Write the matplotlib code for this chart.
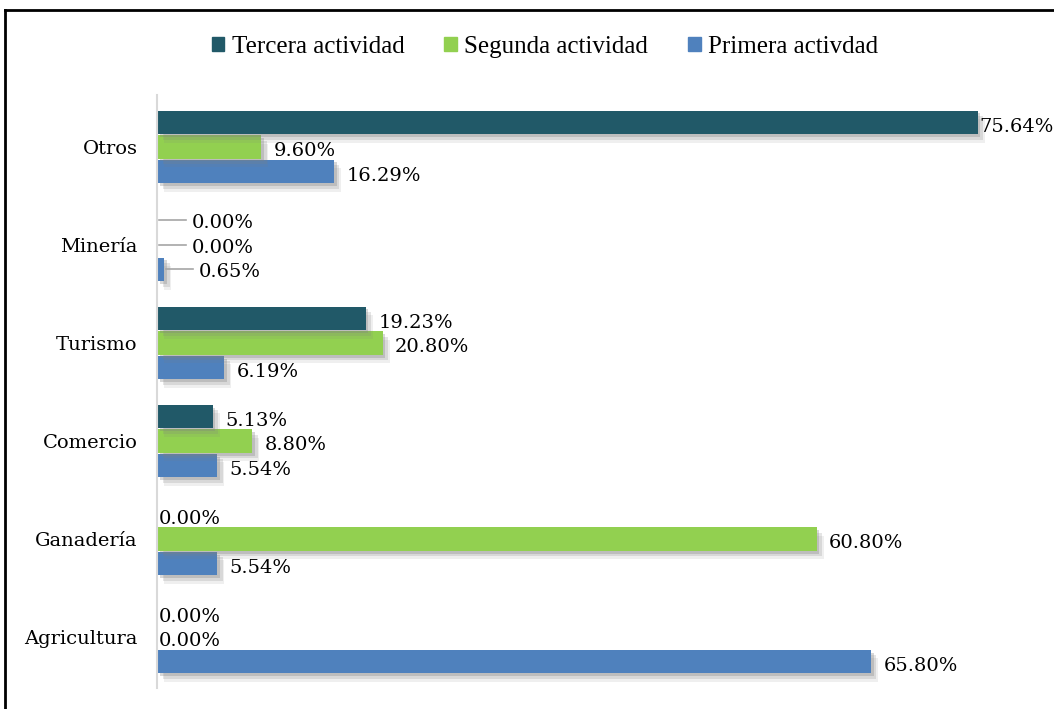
import numpy as np
import matplotlib.pyplot as plt
import matplotlib.patheffects as pe
from matplotlib.lines import Line2D
from matplotlib.patches import Patch

plt.rcParams['font.family'] = ['DejaVu Serif', 'Liberation Serif']

categories = ["Agricultura", "Ganadería", "Comercio", "Turismo", "Minería", "Otros"]
series_names = ["Primera activdad", "Segunda actividad", "Tercera actividad"]
primera = [65.80, 5.54, 5.54, 6.19, 0.65, 16.29]
segunda = [0.00, 60.80, 8.80, 20.80, 0.00, 9.60]
tercera = [0.00, 0.00, 5.13, 19.23, 0.00, 75.64]
colors = ["#4F81BD", "#92D050", "#215968"]

fig = plt.figure(figsize=(10.54, 7.09), dpi=100)
ax = fig.add_axes([157/1054, 1-688/709, 843/1054, 593/709])

y = np.arange(len(categories))
h = 0.25
shadow = [pe.SimplePatchShadow(offset=(5, -6), shadow_rgbFace='#808080', alpha=0.12),
          pe.SimplePatchShadow(offset=(4, -4), shadow_rgbFace='#808080', alpha=0.2),
          pe.SimplePatchShadow(offset=(2, -2), shadow_rgbFace='#808080', alpha=0.3),
          pe.Normal()]
lab_fs = 14
for k, (vals, name, c) in enumerate(zip([primera, segunda, tercera], series_names, colors)):
    ypos = y + (k - 1) * h
    bars = ax.barh(ypos, vals, height=h * 0.96, color=c)
    for b in bars:
        b.set_path_effects(shadow)
    for yi, v, cat in zip(ypos, vals, categories):
        txt = "%.2f%%" % v
        if cat == "Minería":
            ax.plot([v + 0.2, v + 2.7], [yi, yi], color='#a6a6a6', lw=1.2, clip_on=False)
            ax.annotate(txt, xy=(v, yi), xytext=(25, -2), textcoords='offset points',
                        ha='left', va='center', fontsize=lab_fs)
        else:
            if v == 0:
                dx = 1
            elif v > 70:
                dx = 1  # no room past the longest bar
            else:
                dx = 9
            ax.annotate(txt, xy=(v, yi), xytext=(dx, -3), textcoords='offset points',
                        ha='left', va='center', fontsize=lab_fs)

ax.set_xlim(0, 843/10.85)
ax.set_ylim(-0.52, 5.53)
ax.set_yticks(y)
ax.set_yticklabels(categories, fontsize=lab_fs)
ax.tick_params(axis='y', length=0, pad=14)
ax.set_xticks([])
for s in ['top', 'right', 'bottom']:
    ax.spines[s].set_visible(False)
ax.spines['left'].set_color('#d9d9d9')
ax.spines['left'].set_linewidth(1.5)

# legend in reverse order, plain squares
proxies = [Patch(color=colors[i]) for i in (2, 1, 0)]
names = [series_names[i] for i in (2, 1, 0)]
fig.legend(proxies, names, loc='center', bbox_to_anchor=(545/1054, 1-47/709), ncol=3,
           frameon=False, prop={'family': 'Liberation Serif', 'size': 18},
           handlelength=0.5, handleheight=0.5, handletextpad=0.3, columnspacing=1.6)

fig.add_artist(Line2D([5/1054, 5/1054], [0, 1-10/709], color='black', lw=2, transform=fig.transFigure))
fig.add_artist(Line2D([5/1054, 1], [1-10/709, 1-10/709], color='black', lw=2, transform=fig.transFigure))

fig.savefig("out.png", dpi=100)
